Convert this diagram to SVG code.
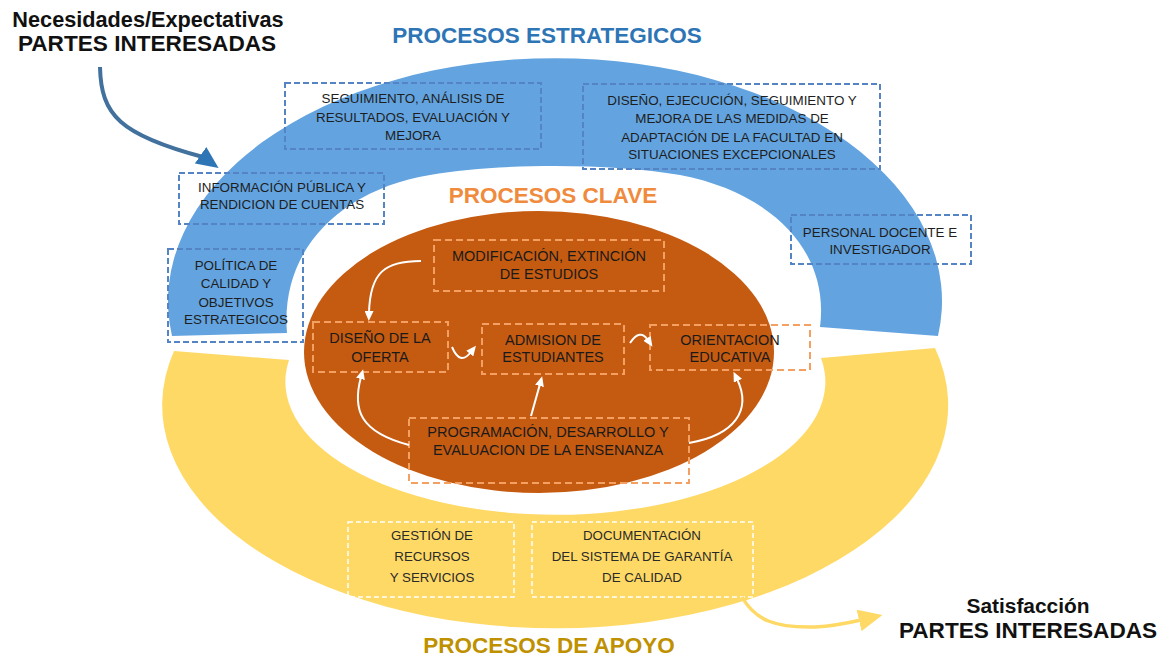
<svg xmlns="http://www.w3.org/2000/svg" width="1167" height="657" viewBox="0 0 1167 657">
<defs>
<style>
.title{font-family:"Liberation Sans",Arial,sans-serif;font-weight:bold;font-size:22.5px;text-anchor:middle}
.hd{font-family:"Liberation Sans",Arial,sans-serif;font-weight:bold;text-anchor:middle;fill:#111}
.bt{font-family:"Liberation Sans",Arial,sans-serif;font-size:13.4px;fill:#1e1e1e;text-anchor:middle}
.ot{font-family:"Liberation Sans",Arial,sans-serif;font-size:14.5px;fill:#1a1a1a;text-anchor:middle}
.yt{font-family:"Liberation Sans",Arial,sans-serif;font-size:13.3px;fill:#2a2a2a;text-anchor:middle}
.bbox{fill:none;stroke:#5584C4;stroke-width:2;stroke-dasharray:6 3}
.obox{fill:none;stroke:#F4A063;stroke-width:2;stroke-dasharray:7 4}
.ybox{fill:none;stroke:#ffffff;stroke-width:1.5;stroke-dasharray:5 3}
.wa{fill:none;stroke:#ffffff;stroke-width:2;marker-end:url(#wh)}
</style>
<marker id="wh" markerUnits="userSpaceOnUse" markerWidth="10" markerHeight="9" refX="2" refY="4.5" orient="auto" viewBox="0 0 10 9"><path d="M0,0 L10,4.5 L0,9 Z" fill="#ffffff"/></marker>
<marker id="bh" markerUnits="userSpaceOnUse" markerWidth="22" markerHeight="20" refX="3" refY="10" orient="35" viewBox="0 0 22 20"><path d="M0,0 L22,10 L0,20 Z" fill="#2E75B6"/></marker>
<marker id="yh" markerUnits="userSpaceOnUse" markerWidth="24" markerHeight="22" refX="2" refY="11" orient="auto" viewBox="0 0 24 22"><path d="M0,0 L24,11 L0,22 Z" fill="#FFD966"/></marker>
</defs>
<rect width="1167" height="657" fill="#ffffff"/>

<g id="bands">
<path id="estrategicos-band" d="M172,336 A387,243 0 1 1 938,336 L820,327 C830,250 770,192 680,175 C610,163 500,163 430,175 C340,190 280,250 287,333 Z" fill="#63A4E0"/>
<path id="apoyo-band" d="M174,351 L289,360 A270,133 0 1 0 821,358 L935,348 A393,223 0 1 1 174,351 Z" fill="#FFD966"/>
<ellipse id="clave-core" cx="539" cy="352" rx="235" ry="141" fill="#C55A11"/>
</g>

<g id="titles">
<text class="title" x="547" y="43" fill="#2E75B6">PROCESOS ESTRATEGICOS</text>
<text class="title" x="553" y="203" fill="#F08A3D">PROCESOS CLAVE</text>
<text class="title" x="549" y="653" fill="#BF9000">PROCESOS DE APOYO</text>
</g>

<g id="necesidades">
<text class="hd" x="148" y="27" font-size="21.7">Necesidades/Expectativas</text>
<text class="hd" x="147" y="51" font-size="22.6">PARTES INTERESADAS</text>
</g>
<g id="satisfaccion">
<text class="hd" x="1028" y="613" font-size="20.9">Satisfacción</text>
<text class="hd" x="1028" y="638" font-size="22.6">PARTES INTERESADAS</text>
</g>

<g id="seguimiento">
<rect class="bbox" x="285" y="83" width="256" height="66"/>
<text class="bt" x="413" y="103">SEGUIMIENTO, ANÁLISIS DE</text>
<text class="bt" x="413" y="122">RESULTADOS, EVALUACIÓN Y</text>
<text class="bt" x="413" y="140">MEJORA</text>
</g>
<g id="adaptacion">
<rect class="bbox" x="583" y="84" width="297" height="85"/>
<text class="bt" x="732" y="105">DISEÑO, EJECUCIÓN, SEGUIMIENTO Y</text>
<text class="bt" x="732" y="123">MEJORA DE LAS MEDIDAS DE</text>
<text class="bt" x="732" y="142">ADAPTACIÓN DE LA FACULTAD EN</text>
<text class="bt" x="732" y="159">SITUACIONES EXCEPCIONALES</text>
</g>
<g id="informacion">
<rect class="bbox" x="179" y="173" width="205" height="51"/>
<text class="bt" x="282" y="192">INFORMACIÓN PÚBLICA Y</text>
<text class="bt" x="282" y="209">RENDICION DE CUENTAS</text>
</g>
<g id="politica">
<rect class="bbox" x="168" y="249" width="135" height="93"/>
<text class="bt" x="236" y="270">POLÍTICA DE</text>
<text class="bt" x="236" y="288">CALIDAD Y</text>
<text class="bt" x="236" y="307">OBJETIVOS</text>
<text class="bt" x="236" y="324">ESTRATEGICOS</text>
</g>
<g id="personal">
<rect class="bbox" x="791" y="215" width="180" height="49"/>
<text class="bt" x="880" y="237" font-size="12.6">PERSONAL DOCENTE E</text>
<text class="bt" x="880" y="254" font-size="12.6">INVESTIGADOR</text>
</g>

<g id="modificacion">
<rect class="obox" x="434" y="240" width="230" height="51"/>
<text class="ot" x="549" y="261">MODIFICACIÓN, EXTINCIÓN</text>
<text class="ot" x="549" y="279">DE ESTUDIOS</text>
</g>
<g id="diseno-oferta">
<rect class="obox" x="313" y="322" width="135" height="50"/>
<text class="ot" x="380" y="343">DISEÑO DE LA</text>
<text class="ot" x="380" y="362">OFERTA</text>
</g>
<g id="admision">
<rect class="obox" x="482" y="324" width="142" height="50"/>
<text class="ot" x="553" y="345">ADMISION DE</text>
<text class="ot" x="553" y="362">ESTUDIANTES</text>
</g>
<g id="orientacion">
<rect class="obox" x="650" y="325" width="160" height="45"/>
<text class="ot" x="730" y="345">ORIENTACION</text>
<text class="ot" x="730" y="362">EDUCATIVA</text>
</g>
<g id="programacion">
<rect class="obox" x="409" y="418" width="280" height="65"/>
<text class="ot" x="548" y="437">PROGRAMACIÓN, DESARROLLO Y</text>
<text class="ot" x="548" y="455">EVALUACION DE LA ENSENANZA</text>
</g>

<g id="gestion">
<rect class="ybox" x="348" y="522" width="166" height="75"/>
<text class="yt" x="432" y="540">GESTIÓN DE</text>
<text class="yt" x="432" y="561">RECURSOS</text>
<text class="yt" x="432" y="582">Y SERVICIOS</text>
</g>
<g id="documentacion">
<rect class="ybox" x="532" y="522" width="221" height="75"/>
<text class="yt" x="642" y="540">DOCUMENTACIÓN</text>
<text class="yt" x="642" y="561">DEL SISTEMA DE GARANTÍA</text>
<text class="yt" x="642" y="582">DE CALIDAD</text>
</g>

<g id="connectors">
<path d="M100,67 C101,115 120,135 203,157" fill="none" stroke="#41719C" stroke-width="4" marker-end="url(#bh)"/>
<path d="M742,597 C755,620 775,628 815,627 C835,626 848,623 861,620" fill="none" stroke="#FFD966" stroke-width="3.5" marker-end="url(#yh)"/>
<path class="wa" d="M421,261 C385,261 370,272 369,313"/>
<path class="wa" d="M452,347 Q460,366 471,352"/>
<path class="wa" d="M630,343 Q640,328 648,340"/>
<path class="wa" d="M531,416 L540,384"/>
<path class="wa" d="M409,445 C360,432 352,410 361,377"/>
<path class="wa" d="M689,443 C735,435 752,410 737,379"/>
</g>
</svg>
